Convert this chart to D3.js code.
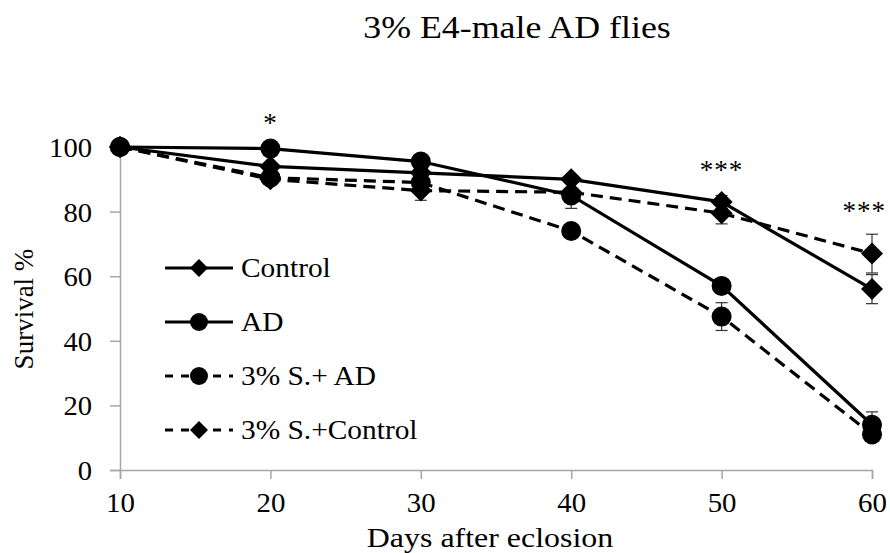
<!DOCTYPE html>
<html>
<head>
<meta charset="utf-8">
<script src="https://cdn.jsdelivr.net/npm/d3@7"></script>
<style>
  body { margin: 0; background: #fff; }
</style>
</head>
<body>
<div id="myfigure"></div>
<script>
// days after eclosion
var days = [10, 20, 30, 40, 50, 60];

// survival % per group
var control      = [100, 94, 92, 90, 83, 56];
var ad           = [100, 99.5, 95.5, 85, 57, 14];
var sAd          = [100, 90.5, 89, 74, 47.5, 11];
var sControl     = [100, 90, 86.5, 86, 79.5, 67];

// error (+/-) per point
var controlErr   = [0, 1, 1, 1, 2, 4.5];
var adErr        = [0, 1, 1, 4, 2, 4];
var sAdErr       = [0, 1, 1, 1, 4.3, 2];
var sControlErr  = [0, 1, 3, 1, 3.3, 6];

var seriesNames  = ["Control", "AD", "3% S.+ AD", "3% S.+Control"];
var yTicks       = [0, 20, 40, 60, 80, 100];
var stars        = [{ day: 20, label: "*", val: 104.5 }, { day: 50, label: "***", val: 90 }, { day: 60, label: "***", val: 77.3 }];

var series = [
    { name: seriesNames[0], values: control,  err: controlErr,  symbol: "diamond", dashed: false },
    { name: seriesNames[1], values: ad,       err: adErr,       symbol: "circle",  dashed: false },
    { name: seriesNames[2], values: sAd,      err: sAdErr,      symbol: "circle",  dashed: true },
    { name: seriesNames[3], values: sControl, err: sControlErr, symbol: "diamond", dashed: true }
];

var FONT = "'Liberation Serif', 'Times New Roman', 'DejaVu Serif', serif";
var width = 890, height = 553;
var margin = { left: 120, right: 18, top: 147, bottom: 83 };

var xScale = d3.scaleLinear().domain([10, 60]).range([margin.left, width - margin.right]);
var yScale = d3.scaleLinear().domain([0, 100]).range([height - margin.bottom, margin.top]);

// the source figure's text is a little wider than Times, stretch it horizontally
var stretch = function(sel, sx) {
    sel.attr("transform", function() {
        var t = d3.select(this);
        var x = +t.attr("x") || 0, y = +t.attr("y") || 0;
        return "translate(" + x + "," + y + ") scale(" + sx + ",1) translate(" + (-x) + "," + (-y) + ")";
    });
};

var svg = d3.select("#myfigure")
    .append("svg")
    .attr("width", width)
    .attr("height", height)
    .attr("font-family", FONT);

// axes
var xAxis = d3.axisBottom(xScale).tickValues(days).tickSize(9).tickPadding(14).tickFormat(d3.format("d"));
var yAxis = d3.axisLeft(yScale).tickValues(yTicks).tickSize(10).tickPadding(18);

var gx = svg.append("g")
    .attr("transform", "translate(0," + yScale(0) + ")")
    .call(xAxis);
var gy = svg.append("g")
    .attr("transform", "translate(" + xScale(10) + ",0)")
    .call(yAxis);

[gx, gy].forEach(function(g) {
    g.attr("font-family", FONT).attr("font-size", null);
    g.select(".domain").attr("stroke", "#a6a6a6").attr("stroke-width", 1.5);
    g.selectAll(".tick line").attr("stroke", "#a6a6a6").attr("stroke-width", 1.5);
    g.selectAll(".tick text").style("font-size", "27px").attr("fill", "#000");
});
gx.selectAll(".tick text").attr("dy", "0.71em").call(stretch, 1.07);
gy.selectAll(".tick text").attr("dy", "0.35em").call(stretch, 1.06);

// title + axis labels
svg.append("text")
    .attr("x", 517).attr("y", 38)
    .style("text-anchor", "middle")
    .style("font-size", "32px")
    .text("3% E4-male AD flies")
    .call(stretch, 1.12);

svg.append("text")
    .attr("x", 490).attr("y", 547)
    .style("text-anchor", "middle")
    .style("font-size", "28px")
    .text("Days after eclosion")
    .call(stretch, 1.14);

svg.append("text")
    .attr("transform", "translate(33," + 309 + ") rotate(-90)")
    .style("text-anchor", "middle")
    .style("font-size", "27px")
    .text("Survival %");

var line = d3.line()
    .x(function(d, i) { return xScale(days[i]); })
    .y(function(d) { return yScale(d); });

var diamond = function(g, r) {
    return g.append("path")
        .attr("d", "M0," + (-r) + "L" + r + ",0L0," + r + "L" + (-r) + ",0Z")
        .attr("fill", "#000");
};

var drawMarker = function(g, s) {
    if (s.symbol === "circle") {
        g.append("circle").attr("r", 10).attr("fill", "#000");
    } else {
        diamond(g, 11);
    }
};

// error bars
series.forEach(function(s) {
    var eb = svg.append("g").attr("class", "errbars");
    s.values.forEach(function(v, i) {
        if (!s.err[i]) return;
        var x = xScale(days[i]);
        var y0 = yScale(v - s.err[i]), y1 = yScale(v + s.err[i]);
        eb.append("line").attr("x1", x).attr("x2", x).attr("y1", y0).attr("y2", y1)
            .attr("stroke", "#333").attr("stroke-width", 1.2);
        [y0, y1].forEach(function(yy) {
            eb.append("line").attr("x1", x - 6).attr("x2", x + 6).attr("y1", yy).attr("y2", yy)
                .attr("stroke", "#333").attr("stroke-width", 1.2);
        });
    });
});

// lines + markers
series.forEach(function(s) {
    svg.append("path")
        .datum(s.values)
        .attr("d", line)
        .attr("fill", "none")
        .attr("stroke", "#000")
        .attr("stroke-width", 3.2)
        .attr("stroke-dasharray", s.dashed ? "12,7" : null);

    svg.selectAll(null)
        .data(s.values)
        .enter()
        .append("g")
        .attr("transform", function(d, i) { return "translate(" + xScale(days[i]) + "," + yScale(d) + ")"; })
        .each(function() { drawMarker(d3.select(this), s); });
});

// significance stars (kept inside the right edge)
svg.selectAll(".star")
    .data(stars)
    .enter()
    .append("text")
    .attr("class", "star")
    .attr("y", function(d) { return yScale(d.val); })
    .attr("fill", "#000")
    .style("text-anchor", "middle")
    .style("font-size", "27px")
    .style("letter-spacing", "1px")
    .text(function(d) { return d.label; })
    .attr("x", function(d) {
        var half = this.getComputedTextLength() / 2;
        return Math.min(xScale(d.day), width - 4 - half);
    });

// legend
var legend = svg.append("g").attr("transform", "translate(165,268)");
series.forEach(function(s, i) {
    var row = legend.append("g").attr("transform", "translate(0," + (i * 54) + ")");
    row.append("line")
        .attr("x1", 0).attr("x2", 68).attr("y1", 0).attr("y2", 0)
        .attr("stroke", "#000").attr("stroke-width", 3.2)
        .attr("stroke-dasharray", s.dashed ? "8,8" : null);
    var m = row.append("g").attr("transform", "translate(34,0)");
    if (s.symbol === "circle") m.append("circle").attr("r", 9).attr("fill", "#000");
    else diamond(m, 9);
    row.append("text")
        .attr("x", 76).attr("y", 9)
        .style("font-size", "28px")
        .text(s.name)
        .call(stretch, 1.05);
});
</script>
</body>
</html>
